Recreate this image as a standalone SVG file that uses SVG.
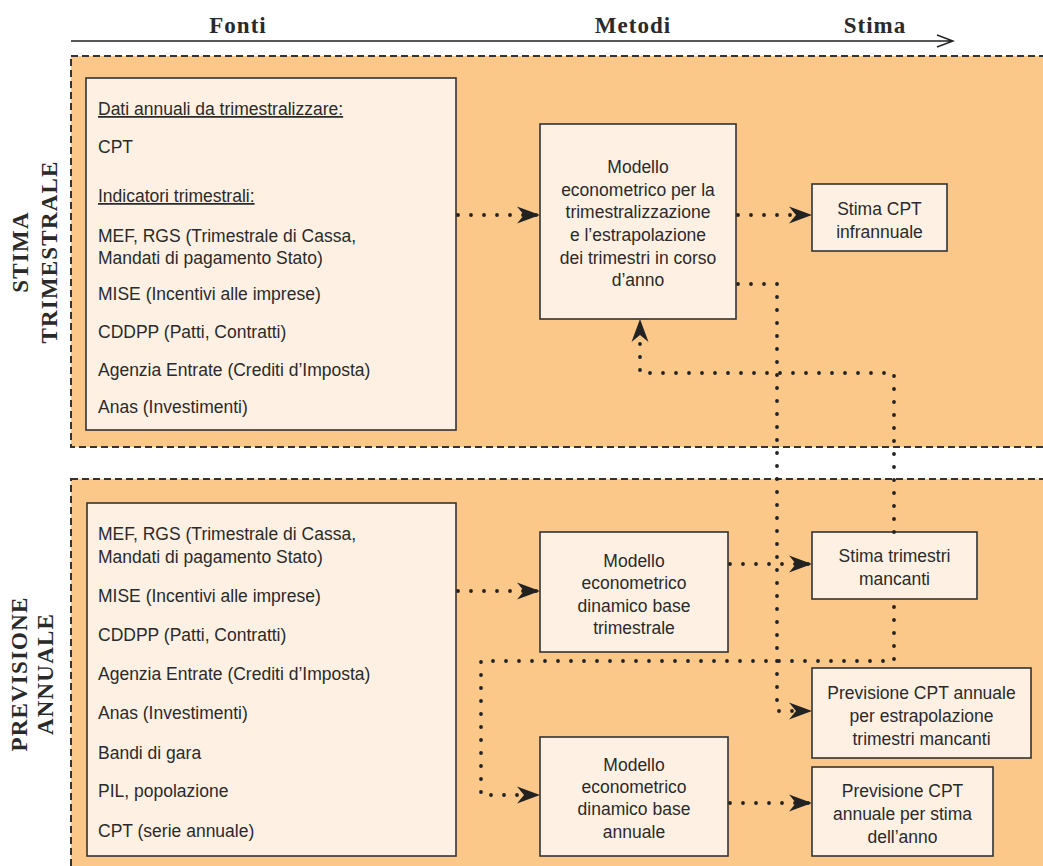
<svg xmlns="http://www.w3.org/2000/svg" width="1043" height="866" viewBox="0 0 1043 866">
<style>
.hdr{font-family:"Liberation Serif","Times New Roman",serif;font-weight:bold;font-size:23px;fill:#2a2a2a;text-anchor:middle;letter-spacing:1px}
.side{font-family:"Liberation Serif","Times New Roman",serif;font-weight:bold;font-size:23px;fill:#2a2a2a;text-anchor:middle;letter-spacing:1.2px}
.zone{fill:#fcc88a;stroke:#333;stroke-width:2;stroke-dasharray:7 4}
.box{fill:#fef1e3;stroke:#333;stroke-width:1.6}
.t{font-family:"Liberation Sans",Arial,sans-serif;font-size:17.5px;fill:#2a2a2a}
.c{text-anchor:middle}
.u{text-decoration:underline}
.dot{fill:none;stroke:#222;stroke-width:3.8;stroke-linecap:round;stroke-linejoin:round;stroke-dasharray:0 13}
</style>
<defs>
<marker id="ah" markerUnits="userSpaceOnUse" markerWidth="26" markerHeight="22" viewBox="-24 -11 26 22" refX="0" refY="0" orient="auto" overflow="visible">
<path d="M0,0 L-23,-8.5 L-16,0 L-23,8.5 Z" fill="#222"/>
</marker>
</defs>
<rect width="1043" height="866" fill="#fff"/>

<g id="header">
<text class="hdr" x="238" y="33">Fonti</text>
<text class="hdr" x="633" y="33">Metodi</text>
<text class="hdr" x="875" y="33">Stima</text>
<path d="M71,41 H953 M937,35 L953,41 L937,47" fill="none" stroke="#222" stroke-width="1.4"/>
</g>

<g id="zone-stima">
<rect class="zone" x="71" y="56" width="1000" height="391"/>
<text class="side" transform="translate(28,252) rotate(-90)">STIMA</text>
<text class="side" transform="translate(57,252) rotate(-90)">TRIMESTRALE</text>
</g>

<g id="zone-previsione">
<rect class="zone" x="71" y="479" width="1000" height="420"/>
<text class="side" transform="translate(27,674) rotate(-90)">PREVISIONE</text>
<text class="side" transform="translate(53,674) rotate(-90)">ANNUALE</text>
</g>

<g id="fonti-trimestrali">
<rect class="box" x="86" y="78" width="370" height="352"/>
<text class="t u" x="98" y="115">Dati annuali da trimestralizzare:</text>
<text class="t" x="98" y="153">CPT</text>
<text class="t u" x="98" y="202">Indicatori trimestrali:</text>
<text class="t" x="98" y="242">MEF, RGS (Trimestrale di Cassa,</text>
<text class="t" x="98" y="264">Mandati di pagamento Stato)</text>
<text class="t" x="98" y="300">MISE (Incentivi alle imprese)</text>
<text class="t" x="98" y="338">CDDPP (Patti, Contratti)</text>
<text class="t" x="98" y="376">Agenzia Entrate (Crediti d’Imposta)</text>
<text class="t" x="98" y="413">Anas (Investimenti)</text>
</g>

<g id="fonti-annuali">
<rect class="box" x="87" y="503" width="369" height="353"/>
<text class="t" x="98" y="540">MEF, RGS (Trimestrale di Cassa,</text>
<text class="t" x="98" y="563">Mandati di pagamento Stato)</text>
<text class="t" x="98" y="602">MISE (Incentivi alle imprese)</text>
<text class="t" x="98" y="641">CDDPP (Patti, Contratti)</text>
<text class="t" x="98" y="680">Agenzia Entrate (Crediti d’Imposta)</text>
<text class="t" x="98" y="719">Anas (Investimenti)</text>
<text class="t" x="98" y="759">Bandi di gara</text>
<text class="t" x="98" y="797">PIL, popolazione</text>
<text class="t" x="98" y="837">CPT (serie annuale)</text>
</g>

<g id="modello-trimestralizzazione">
<rect class="box" x="540" y="124" width="196" height="195"/>
<text class="t c" x="638" y="173">Modello</text>
<text class="t c" x="638" y="196">econometrico per la</text>
<text class="t c" x="638" y="218">trimestralizzazione</text>
<text class="t c" x="638" y="241">e l’estrapolazione</text>
<text class="t c" x="638" y="264">dei trimestri in corso</text>
<text class="t c" x="638" y="286">d’anno</text>
</g>

<g id="stima-cpt-infrannuale">
<rect class="box" x="812" y="184" width="135" height="67"/>
<text class="t c" x="879.5" y="215">Stima CPT</text>
<text class="t c" x="879.5" y="238">infrannuale</text>
</g>

<g id="modello-trimestrale">
<rect class="box" x="540" y="532" width="188" height="120"/>
<text class="t c" x="634" y="567">Modello</text>
<text class="t c" x="634" y="589">econometrico</text>
<text class="t c" x="634" y="612">dinamico base</text>
<text class="t c" x="634" y="634">trimestrale</text>
</g>

<g id="stima-trimestri-mancanti">
<rect class="box" x="812" y="532" width="165" height="67"/>
<text class="t c" x="894.5" y="562">Stima trimestri</text>
<text class="t c" x="894.5" y="585">mancanti</text>
</g>

<g id="previsione-estrapolazione">
<rect class="box" x="812" y="668" width="219" height="90"/>
<text class="t c" x="921.5" y="699">Previsione CPT annuale</text>
<text class="t c" x="921.5" y="722">per estrapolazione</text>
<text class="t c" x="921.5" y="745">trimestri mancanti</text>
</g>

<g id="modello-annuale">
<rect class="box" x="540" y="737" width="188" height="119"/>
<text class="t c" x="634" y="771">Modello</text>
<text class="t c" x="634" y="793">econometrico</text>
<text class="t c" x="634" y="815">dinamico base</text>
<text class="t c" x="634" y="838">annuale</text>
</g>

<g id="previsione-stima-anno">
<rect class="box" x="812" y="767" width="181" height="89"/>
<text class="t c" x="902.5" y="797">Previsione CPT</text>
<text class="t c" x="902.5" y="820">annuale per stima</text>
<text class="t c" x="902.5" y="843">dell’anno</text>
</g>

<g id="connectors">
<path class="dot" d="M458,215 H540" marker-end="url(#ah)"/>
<path class="dot" d="M738,215 H812" marker-end="url(#ah)"/>
<path class="dot" d="M738,284 H777 V711 H812" marker-end="url(#ah)"/>
<path class="dot" d="M894,532 V373 H640 V319" marker-end="url(#ah)"/>
<path class="dot" d="M458,591 H540" marker-end="url(#ah)"/>
<path class="dot" d="M730,564 H812" marker-end="url(#ah)"/>
<path class="dot" d="M894,607 V661 H481 V795 H540" marker-end="url(#ah)"/>
<path class="dot" d="M730,803 H812" marker-end="url(#ah)"/>
</g>
</svg>
